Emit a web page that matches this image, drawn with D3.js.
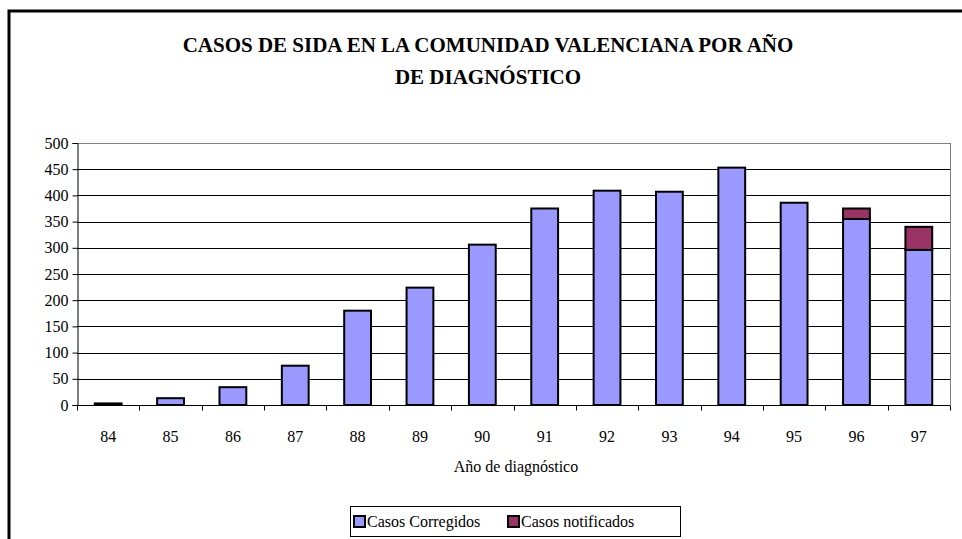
<!DOCTYPE html>
<html>
<head>
<meta charset="utf-8">
<script src="https://cdn.jsdelivr.net/npm/d3@7"></script>
<style>
  body { margin: 0; background: #fff; }
</style>
</head>
<body>
<svg id="chart" width="962" height="539" style="font-family:'Liberation Serif', serif">
<text id="title" text-anchor="middle" font-family="Liberation Serif" font-weight="bold" font-size="21"><tspan x="488" y="52">CASOS DE SIDA EN LA COMUNIDAD VALENCIANA POR AÑO</tspan><tspan x="488" y="84">DE DIAGNÓSTICO</tspan></text>
</svg>
<script>
// data
years = ["84", "85", "86", "87", "88", "89", "90", "91", "92", "93", "94", "95", "96", "97"];
corregidos = [3, 13, 34, 75, 180, 224, 306, 375, 409, 407, 453, 386, 355, 296];
notificados = [0, 0, 0, 0, 0, 0, 0, 0, 0, 0, 0, 0, 20, 44];
yTicks = [0, 50, 100, 150, 200, 250, 300, 350, 400, 450, 500];
seriesNames = ["Casos Corregidos", "Casos notificados"];
seriesColors = ["#9999ff", "#993366"];

let FONT = "Liberation Serif";
let svg = d3.select("#chart");
let plot = {left: 77, top: 143, right: 950, bottom: 405};

// outer frame
svg.insert("rect", "#title")
    .attr("x", 9).attr("y", 11)
    .attr("width", 980).attr("height", 560)
    .attr("fill", "none").attr("stroke", "#000").attr("stroke-width", 3);

let x = d3.scaleBand().domain(years).range([plot.left, plot.right]).paddingInner(0.57).paddingOuter(0.285);
let y = d3.scaleLinear().domain([0, 500]).range([plot.bottom, plot.top]);

// gridlines
svg.append("g").selectAll("line")
    .data(yTicks.slice(1))
    .enter().append("line")
    .attr("x1", plot.left).attr("x2", plot.right)
    .attr("y1", d => Math.round(y(d)) + 0.5).attr("y2", d => Math.round(y(d)) + 0.5)
    .attr("stroke", d => d == 500 ? "#808080" : "#000")
    .attr("stroke-width", 1);

// plot right border
svg.append("line")
    .attr("x1", plot.right + 0.5).attr("x2", plot.right + 0.5)
    .attr("y1", plot.top).attr("y2", plot.bottom)
    .attr("stroke", "#808080");

// stacked bars
let stacked = d3.stack().keys([0, 1]).value((d, k) => d[k])(years.map((yr, i) => [corregidos[i], notificados[i]]));
stacked.forEach(function(layer, k) {
    svg.append("g").selectAll("rect")
        .data(layer.filter(d => d[1] > d[0]))
        .enter().append("rect")
        .attr("x", (d) => x(years[layer.indexOf(d)]))
        .attr("width", x.bandwidth())
        .attr("y", d => y(d[1]))
        .attr("height", d => y(d[0]) - y(d[1]))
        .attr("fill", seriesColors[k])
        .attr("stroke", "#000")
        .attr("stroke-width", 2);
});

// y axis
let yAxis = d3.axisLeft(y).tickValues(yTicks).tickSize(5).tickPadding(4);
let gy = svg.append("g")
    .attr("transform", "translate(" + (plot.left + 0.5) + ",0)")
    .call(yAxis);
gy.attr("font-family", FONT).attr("font-size", 16);
gy.selectAll("text").attr("font-family", FONT).attr("font-size", 16).attr("fill", "#000");

// x axis: ticks at category boundaries
let gx = svg.append("g")
    .attr("transform", "translate(0," + (plot.bottom + 0.5) + ")");
gx.append("line").attr("x1", plot.left).attr("x2", plot.right).attr("stroke", "#000");
gx.selectAll(".tk")
    .data(d3.range(years.length + 1))
    .enter().append("line")
    .attr("x1", i => Math.round(plot.left + i * (plot.right - plot.left) / years.length) + 0.5)
    .attr("x2", i => Math.round(plot.left + i * (plot.right - plot.left) / years.length) + 0.5)
    .attr("y1", 0).attr("y2", 5)
    .attr("stroke", "#000");
gx.selectAll(".lbl")
    .data(years)
    .enter().append("text")
    .attr("x", d => x(d) + x.bandwidth() / 2)
    .attr("y", 36)
    .attr("text-anchor", "middle")
    .attr("font-family", FONT)
    .attr("font-size", 16)
    .text(d => d);

// x title
svg.append("text")
    .attr("x", 516).attr("y", 472)
    .attr("text-anchor", "middle")
    .attr("font-family", FONT)
    .attr("font-size", 16)
    .text("Año de diagnóstico");

// legend
let legend = svg.append("g").attr("transform", "translate(350,506)");
legend.append("rect")
    .attr("x", 0.5).attr("y", 0.5).attr("width", 330).attr("height", 30)
    .attr("fill", "#fff").attr("stroke", "#000");
let lx = [4, 158];
seriesNames.forEach(function(name, k) {
    legend.append("rect")
        .attr("x", lx[k]).attr("y", 10).attr("width", 11).attr("height", 11)
        .attr("fill", seriesColors[k]).attr("stroke", "#000").attr("stroke-width", 2);
    legend.append("text")
        .attr("x", lx[k] + 13).attr("y", 21)
        .attr("font-family", FONT)
        .attr("font-size", 16)
        .text(name);
});
</script>
</body>
</html>
